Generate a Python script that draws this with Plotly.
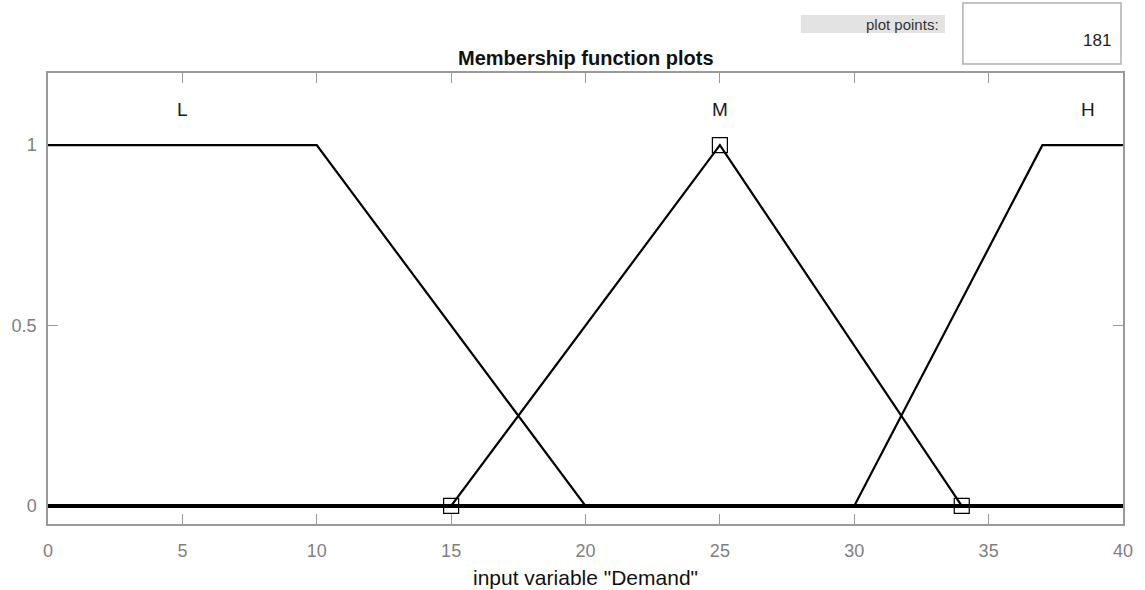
import plotly.graph_objects as go

# Membership functions of input variable "Demand" (range 0..40)
x_range = [0, 40]
mf_names = ["L", "M", "H"]
mf_x = {
    "L": [0, 10, 20, 40],        # trapmf [-inf 0 10 20] over the plotted range
    "M": [0, 15, 25, 34, 40],    # trimf [15 25 34]
    "H": [0, 30, 37, 40],        # trapmf [30 37 40 +inf]
}
mf_y = {
    "L": [1, 1, 0, 0],
    "M": [0, 0, 1, 0, 0],
    "H": [0, 0, 1, 1],
}
# Label anchor positions (centre of each function's peak)
label_x = [5, 25, 38.7]
label_y = 1.1

# Parameter points of the selected function (M)
sel_x = [15, 25, 34]
sel_y = [0, 1, 0]

x_ticks = [0, 5, 10, 15, 20, 25, 30, 35, 40]
y_ticks = [0, 0.5, 1]
plot_points = "181"

FONT = "Liberation Sans, Arial, Helvetica, sans-serif"
AXIS_GRAY = "#9a9a9a"
TICK_TEXT = "#7f7f7f"

# plot area in pixels (used to place the control widgets in paper units)
PX_L, PX_R, PX_T, PX_B = 48, 1129, 73, 524


def px(xp):
    return (xp - PX_L) / (PX_R - PX_L)


def py(yp):
    return (PX_B - yp) / (PX_B - PX_T)


fig = go.Figure()

# common zero baseline shared by all functions
fig.add_trace(go.Scatter(x=x_range, y=[0, 0], mode="lines",
                         line=dict(color="black", width=4), hoverinfo="skip"))

for name in mf_names:
    fig.add_trace(go.Scatter(x=mf_x[name], y=mf_y[name], mode="lines",
                             line=dict(color="black", width=2.2), name=name))

fig.add_trace(go.Scatter(x=sel_x, y=sel_y, mode="markers",
                         marker=dict(symbol="square-open", size=15,
                                     color="black", line=dict(width=1.2))))

for name, lx in zip(mf_names, label_x):
    fig.add_annotation(x=lx, y=label_y, text=name, showarrow=False,
                       font=dict(family=FONT, size=19, color="#1a1a1a"),
                       xanchor="center", yanchor="middle")

# title and x label
fig.add_annotation(xref="paper", yref="paper", x=0.5, y=py(58),
                   text="<b>Membership function plots</b>", showarrow=False,
                   font=dict(family=FONT, size=20, color="#111111"),
                   xanchor="center", yanchor="middle")
fig.add_annotation(xref="paper", yref="paper", x=0.5, y=py(577),
                   text='input variable "Demand"', showarrow=False,
                   font=dict(family=FONT, size=21, color="#111111"),
                   xanchor="center", yanchor="middle")

# "plot points" control
fig.add_shape(type="rect", xref="paper", yref="paper",
              x0=px(805), x1=px(950), y0=py(33), y1=py(15),
              fillcolor="#e3e3e3", line=dict(width=0), layer="below")
fig.add_annotation(xref="paper", yref="paper", x=px(946), y=py(24),
                   text="plot points:", showarrow=False,
                   font=dict(family=FONT, size=15, color="#333333"),
                   xanchor="right", yanchor="middle")
fig.add_shape(type="rect", xref="paper", yref="paper",
              x0=px(968), x1=px(1127), y0=py(64), y1=py(3),
              fillcolor="white", line=dict(color="#b0b0b0", width=1.5))
fig.add_annotation(xref="paper", yref="paper", x=px(1119), y=py(41),
                   text=plot_points, showarrow=False,
                   font=dict(family=FONT, size=17, color="#222222"),
                   xanchor="right", yanchor="middle")

axis_common = dict(showline=True, linecolor=AXIS_GRAY, linewidth=1.5,
                   mirror="ticks", ticks="inside", ticklen=10,
                   tickcolor=AXIS_GRAY, tickwidth=1, showgrid=False,
                   zeroline=False, layer="below traces",
                   tickfont=dict(family=FONT, size=18, color=TICK_TEXT))

fig.update_xaxes(range=x_range, tickvals=x_ticks,
                 ticktext=[str(v) for v in x_ticks],
                 ticklabelstandoff=10, **axis_common)
fig.update_yaxes(range=[-0.05, 1.2], tickvals=y_ticks,
                 ticktext=["0", "0.5", "1"],
                 ticklabelstandoff=6, **axis_common)

fig.update_layout(width=1145, height=590,
                  margin=dict(l=PX_L, r=1145 - PX_R, t=PX_T, b=590 - PX_B),
                  plot_bgcolor="white", paper_bgcolor="white",
                  showlegend=False, font=dict(family=FONT))

fig.write_html("out.html")
